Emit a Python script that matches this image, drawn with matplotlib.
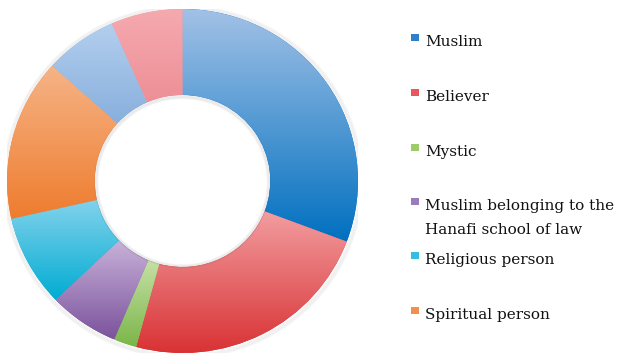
import numpy as np
import matplotlib
matplotlib.use("Agg")
import matplotlib.pyplot as plt
from matplotlib.colors import to_rgb
from matplotlib.patches import Rectangle, Ellipse

# ---- data ----
categories = ["Muslim", "Believer", "Mystic",
              "Muslim belonging to the\nHanafi school of law",
              "Religious person", "Spiritual person"]
values = [30.7, 23.5, 2.1, 6.5, 8.6, 15.2]
# two further slices whose legend entries are cut off in the source
hidden_values = [6.7, 6.6]

top_colors = ["#A2C1E6", "#F29DA0", "#C6E0A6", "#C9B3DA", "#82D2EC", "#F6B487", "#B3CFEE", "#F5AAB0"]
bottom_colors = ["#0070C0", "#D93234", "#7AB648", "#7B529C", "#00ACD2", "#EE7C2E", "#88AFDD", "#EE8F96"]
legend_colors = ["#2F80CB", "#E8575B", "#9CCB6C", "#9B7CBB", "#35BDE0", "#F18E50"]

all_values = values + hidden_values

W, H = 617, 361
fig = plt.figure(figsize=(W / 100, H / 100), dpi=100)

# ring spans x 7..358, y 9..353 (pixels)
x0p, x1p, y0p, y1p = 7, 358, 9, 353
ax = fig.add_axes([x0p / W, (H - y1p) / H, (x1p - x0p) / W, (y1p - y0p) / H])
ax.axis("off")

# soft shadow around the ring
for i in range(6):
    r = 1.0 + 0.004 * (i + 1)
    ax.add_patch(Ellipse((0.003, -0.006), 2 * r, 2 * r, edgecolor="#808080", alpha=0.045,
                         zorder=0, fill=False, lw=1.2))

wedges, _ = ax.pie(all_values, colors=[to_rgb(c) for c in bottom_colors],
                   startangle=90, counterclock=False, radius=1.0,
                   wedgeprops=dict(width=0.5, edgecolor="none", linewidth=0))

for w, ct, cb in zip(wedges, top_colors, bottom_colors):
    ext = w.get_path().get_extents()
    n = 256
    t = np.linspace(0, 1, n)[:, None]
    a, b = np.array(to_rgb(cb)), np.array(to_rgb(ct))
    grad = (a[None, :] * (1 - t) + b[None, :] * t)[:, None, :]
    im = ax.imshow(grad, extent=[ext.x0, ext.x1, ext.y0, ext.y1], origin="lower",
                   aspect="auto", interpolation="bilinear", zorder=2)
    im.set_clip_path(w)

# inner shadow of the hole
for i in range(5):
    r = 0.5 - 0.004 * i
    ax.add_patch(Ellipse((0.0, -0.004), 2 * r, 2 * r, edgecolor="#606060", alpha=0.05,
                         zorder=3, fill=False, lw=1.2))

ax.set_xlim(-1.0, 1.0)
ax.set_ylim(-1.0, 1.0)
ax.set_aspect("auto")

# ---- legend (manual) ----
baselines = [46, 101, 156, 210, 264, 319]
sq_x0, sq_w, sq_h = 411, 8, 7
tx = 425
fs = 11.0
line_h = 24
for lab, col, yb in zip(categories, legend_colors, baselines):
    sq_c = yb - 8.5
    fig.patches.append(Rectangle((sq_x0 / W, (H - sq_c - sq_h / 2) / H), sq_w / W, sq_h / H,
                                 transform=fig.transFigure, facecolor=col, edgecolor="none"))
    for k, line in enumerate(lab.split("\n")):
        fig.text(tx / W, (H - (yb + k * line_h)) / H, line, fontsize=fs, family="DejaVu Serif",
                 color="#111111", va="baseline", ha="left")

fig.savefig("out.png", dpi=100)
